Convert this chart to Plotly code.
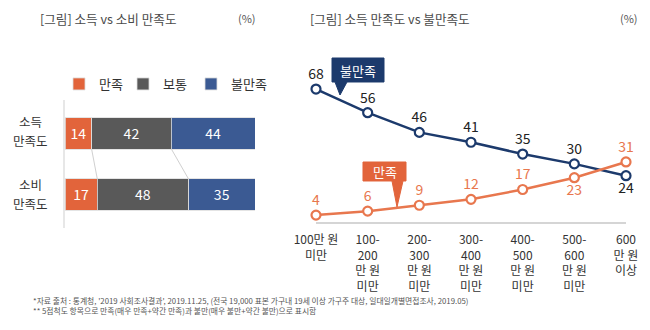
import plotly.graph_objects as go

W, H = 650, 330
FONT = "Noto Sans CJK KR"

# Left chart: satisfaction breakdown for income vs consumption
row_labels = ["소득<br>만족도", "소비<br>만족도"]
cat_names = ["만족", "보통", "불만족"]
satisfied = [14, 17]
neutral = [42, 48]
dissatisfied = [44, 35]

# Right chart: income satisfaction by monthly household income
income_groups = ["100만 원<br>미만", "100-<br>200<br>만 원<br>미만", "200-<br>300<br>만 원<br>미만",
                 "300-<br>400<br>만 원<br>미만", "400-<br>500<br>만 원<br>미만", "500-<br>600<br>만 원<br>미만",
                 "600<br>만 원<br>이상"]
dissat_line = [68, 56, 46, 41, 35, 30, 24]
sat_line = [4, 6, 9, 12, 17, 23, 31]

ORANGE = "#E2643B"
GRAY = "#595959"
BLUE = "#3B5A93"
NAVY = "#1C3A6C"
LORANGE = "#E8774E"


def px(x):
    return x / W


def py(y):
    return 1 - y / H


fig = go.Figure()

rows_idx = list(range(len(row_labels)))
legend_ids = ["legend", "legend2", "legend3"]
for name, vals, col, lg in zip(cat_names, [satisfied, neutral, dissatisfied], [ORANGE, GRAY, BLUE], legend_ids):
    fig.add_trace(go.Bar(
        y=rows_idx, x=vals, name=name, orientation="h", legend=lg,
        marker=dict(color=col, line=dict(color="#DDDDDD", width=0.8)),
        text=[str(v) for v in vals], textposition="inside", insidetextanchor="middle",
        textfont=dict(color="white", size=14, family=FONT), cliponaxis=False,
        xaxis="x", yaxis="y", hoverinfo="skip",
    ))

xs = list(range(len(income_groups)))
fig.add_trace(go.Scatter(
    x=xs, y=dissat_line, mode="lines+markers+text", showlegend=False,
    line=dict(color=NAVY, width=2.5),
    marker=dict(size=9, color="white", line=dict(color=NAVY, width=2.2)),
    text=[str(v) for v in dissat_line],
    textposition=["top center"] * 6 + ["bottom center"],
    textfont=dict(color="#222222", size=14, family=FONT),
    cliponaxis=False, xaxis="x2", yaxis="y2", hoverinfo="skip",
))
fig.add_trace(go.Scatter(
    x=xs, y=sat_line, mode="lines+markers+text", showlegend=False,
    line=dict(color=LORANGE, width=2.5),
    marker=dict(size=9, color="white", line=dict(color=LORANGE, width=2.2)),
    text=[str(v) for v in sat_line],
    textposition=["top center"] * 5 + ["bottom center", "top center"],
    textfont=dict(color=LORANGE, size=14, family=FONT),
    cliponaxis=False, xaxis="x2", yaxis="y2", hoverinfo="skip",
))

shapes = []
# left axis line
shapes.append(dict(type="line", xref="paper", yref="paper", x0=px(64), x1=px(64), y0=py(100), y1=py(228),
                   line=dict(color="#CFCFCF", width=1), layer="below"))
# connectors between the two stacked bars
half = 0.255
cum1 = [satisfied[0], satisfied[0] + neutral[0]]
cum2 = [satisfied[1], satisfied[1] + neutral[1]]
for a, b in zip(cum1, cum2):
    shapes.append(dict(type="line", xref="x", yref="y", x0=a, x1=b, y0=0 + half, y1=1 - half,
                       line=dict(color="#D0D0D0", width=1)))
# baseline of line chart
shapes.append(dict(type="line", xref="x2", yref="y2", x0=0, x1=len(xs) - 1, y0=0, y1=0,
                   line=dict(color="#D5D5D5", width=2), layer="below"))


def bubble(x0, x1, y0, y1, tb0, tb1, tx, ty, color):
    pts = [(x0, y0), (x1, y0), (x1, y1), (tb1, y1), (tx, ty), (tb0, y1), (x0, y1)]
    path = "M " + " L ".join(f"{px(a):.5f},{py(b):.5f}" for a, b in pts) + " Z"
    return dict(type="path", xref="paper", yref="paper", path=path,
                fillcolor=color, line=dict(color=color, width=1))


shapes.append(bubble(332, 384, 58, 82, 335, 347, 340, 95, NAVY))
shapes.append(bubble(363, 406, 162, 181, 392, 403, 397, 207, ORANGE))

annotations = []


def text(x, y, s, size=13, color="#444444", xanchor="left"):
    annotations.append(dict(x=px(x), y=py(y), xref="paper", yref="paper", text=s, showarrow=False,
                            xanchor=xanchor, yanchor="middle", align="center",
                            font=dict(size=size, color=color, family=FONT)))


text(38, 18, "[그림] 소득 vs 소비 만족도", 12.6, "#4a4a4a")
text(258, 18, "(%)", 11, "#555555", "right")
text(308, 18, "[그림] 소득 만족도 vs 불만족도", 12.6, "#4a4a4a")
text(640, 18, "(%)", 11, "#555555", "right")
text(358, 70, "불만족", 13, "white", "center")
text(384.5, 171.5, "만족", 13, "white", "center")
# row labels, one line per annotation
for lbl, yy in zip(row_labels, [122, 185]):
    for i, part in enumerate(lbl.split("<br>")):
        text(30, yy + 18.5 * i, part, 12.5, "#333333", "center")
text(31, 300, "*자료 출처 : 통계청, '2019 사회조사결과', 2019.11.25, (전국 19,000 표본 가구내 19세 이상 가구주 대상, 일대일개별면접조사, 2019.05)", 7.8, "#555555")
text(31, 310, "** 5점척도 항목으로 만족(매우 만족+약간 만족)과 불만(매우 불만+약간 불만)으로 표시함", 7.8, "#555555")


def legend_at(x):
    return dict(orientation="h", x=px(x), y=py(84), xanchor="left", yanchor="middle",
                font=dict(size=13, color="#333333", family=FONT), itemwidth=30,
                bgcolor="rgba(0,0,0,0)", borderwidth=0)


fig.update_layout(
    template="none",
    width=W, height=H, margin=dict(l=0, r=0, t=0, b=0, pad=0),
    paper_bgcolor="white", plot_bgcolor="white",
    barmode="stack", bargap=0.49,
    font=dict(family=FONT, color="#333333"),
    showlegend=True,
    legend=legend_at(59), legend2=legend_at(123), legend3=legend_at(191),
    xaxis=dict(domain=[px(65), px(255)], range=[0, 100], visible=False, fixedrange=True, automargin=False),
    yaxis=dict(domain=[py(225), py(103)], range=[1.5, -0.5], visible=False, fixedrange=True, automargin=False),
    xaxis2=dict(domain=[px(300.5), px(641.5)], range=[-0.3, 6.3], anchor="y2", automargin=False,
                tickvals=xs, ticktext=income_groups, showgrid=False, zeroline=False, showline=False,
                ticks="", tickfont=dict(size=12, color="#333333", family=FONT), ticklabelstandoff=4),
    yaxis2=dict(domain=[py(226.9), py(81.2)], range=[-2, 72], visible=False, anchor="x2", automargin=False),
    shapes=shapes, annotations=annotations,
)

fig.write_html("out.html")
